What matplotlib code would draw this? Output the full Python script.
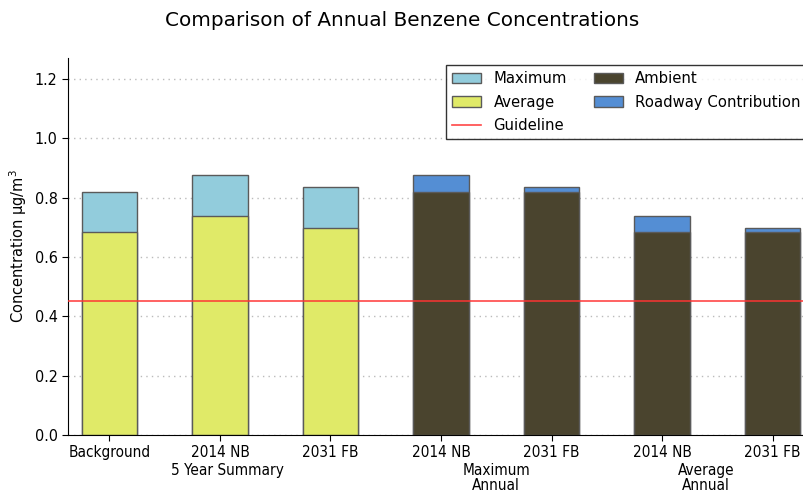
import numpy as np
import matplotlib
matplotlib.use('Agg')
import matplotlib.pyplot as plt
import matplotlib.transforms as mtransforms

# Données
tick_labels = ['Background', '2014 NB', '2031 FB', '2014 NB', '2031 FB', '2014 NB', '2031 FB']
avg_vals = [0.683, 0.739, 0.699]
max_vals = [0.820, 0.877, 0.835]
ambient_vals = [0.820, 0.820, 0.684, 0.684]
roadway_vals = [0.057, 0.015, 0.054, 0.015]
guideline = 0.45
group_labels = ['5 Year Summary', 'Maximum\nAnnual', 'Average\nAnnual']
group_pos = [1.07, 3.5, 5.4]

c_max = '#92CCDC'
c_avg = '#E0EA68'
c_amb = '#4A442E'
c_road = '#548ED4'
edge = '#5a5a5a'

fig = plt.figure(figsize=(8.04, 4.93), dpi=100)
ax = fig.add_axes([68 / 804, 58 / 493, 746 / 804, 377 / 493])

x = np.arange(len(tick_labels))
w = 0.5

# 5 year summary
ax.bar(x[:3], max_vals, w, color=c_max, edgecolor=edge, linewidth=1, label='Maximum')
ax.bar(x[:3], avg_vals, w, color=c_avg, edgecolor=edge, linewidth=1, label='Average')

# annuel
ax.bar(x[3:], np.array(ambient_vals) + np.array(roadway_vals), w, color=c_road,
       edgecolor=edge, linewidth=1, label='Roadway Contribution')
ax.bar(x[3:], ambient_vals, w, color=c_amb, edgecolor=edge, linewidth=1, label='Ambient')

ax.axhline(guideline, color='#FF3333', linewidth=1.2, alpha=0.9, label='Guideline', zorder=3)

ax.set_xlim(-0.375, 6.375)
ax.set_ylim(0, 1.27)
ax.set_yticks(np.arange(0, 1.21, 0.2))
ax.set_yticklabels(['%.1f' % v for v in np.arange(0, 1.21, 0.2)], fontsize=11.5, fontstretch='condensed')
ax.set_xticks(x)
ax.set_xticklabels(tick_labels, fontsize=11, fontstretch='condensed')
ax.yaxis.grid(True, linestyle=(0, (1, 3)), color='#BBBBBB', linewidth=1)
ax.set_axisbelow(True)
ax.spines['top'].set_visible(False)
ax.spines['right'].set_visible(False)
ax.tick_params(direction='out', length=4, top=False, right=False)

ax.set_ylabel('Concentration µg/m$^3$', fontsize=10.5)
fig.suptitle('Comparison of Annual Benzene Concentrations', fontsize=14.4, y=0.978)

trans = mtransforms.blended_transform_factory(ax.transData, ax.transAxes)
for gp, gl in zip(group_pos, group_labels):
    ax.text(gp, -0.073, gl, transform=trans, ha='center', va='top', fontsize=11,
            fontstretch='condensed', linespacing=1.02)

h, l = ax.get_legend_handles_labels()
d = dict(zip(l, h))
order = ['Maximum', 'Average', 'Guideline', 'Ambient', 'Roadway Contribution']
leg = ax.legend([d[k] for k in order], order, ncol=2, loc='upper right', fontsize=10.7,
                frameon=True, fancybox=False, edgecolor='black', borderaxespad=0.5,
                handlelength=2.0, handleheight=0.7, columnspacing=1.8, labelspacing=0.55,
                borderpad=0.4)
leg.get_frame().set_linewidth(1)

fig.savefig('out.png', dpi=100)
